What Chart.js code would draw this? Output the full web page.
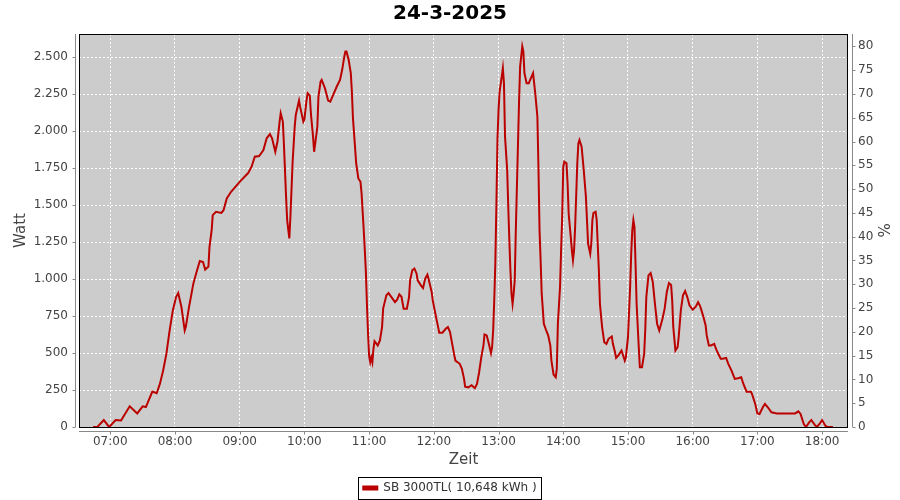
<!DOCTYPE html>
<html>
<head>
<meta charset="utf-8">
<title>24-3-2025</title>
<script src="https://cdn.jsdelivr.net/npm/chart.js@4.4.1/dist/chart.umd.min.js"></script>
<style>
  html, body { margin: 0; padding: 0; background: #fff; }
</style>
</head>
<body>
<canvas id="chart" width="900" height="500"></canvas>
<script>
// values (Watt over the day)
const times = [
  '06:44','06:48','06:54','06:59','07:05','07:10','07:18','07:25','07:30','07:33',
  '07:39','07:43','07:46','07:49','07:52','07:55','07:58','08:01','08:03','08:06',
  '08:09','08:10','08:13','08:17','08:20','08:23','08:26','08:28','08:31','08:32',
  '08:34','08:35','08:38','08:43','08:45','08:48','08:52','09:00','09:08','09:11',
  '09:14','09:18','09:22','09:25','09:28','09:30','09:33','09:35','09:37','09:38',
  '09:40','09:41','09:43','09:44','09:46','09:47','09:48','09:49','09:51','09:52',
  '09:55','09:56','09:59','10:00','10:02','10:03','10:05','10:06','10:08','10:09',
  '10:12','10:13','10:15','10:16','10:19','10:22','10:24','10:26','10:30','10:33',
  '10:35','10:37','10:38','10:39','10:41','10:43','10:44','10:45','10:47','10:48',
  '10:50','10:52','10:53','10:54','10:55','10:56','10:57','10:58','10:59','11:00',
  '11:01','11:02','11:03','11:04','11:05','11:08','11:10','11:12','11:13','11:16',
  '11:18','11:21','11:24','11:26','11:28','11:30','11:32','11:35','11:37','11:38',
  '11:40','11:42','11:44','11:45','11:48','11:50','11:52','11:54','11:55','11:58',
  '11:59','12:02','12:04','12:05','12:08','12:11','12:13','12:15','12:17','12:19',
  '12:20','12:24','12:26','12:28','12:29','12:32','12:35','12:38','12:40','12:42',
  '12:44','12:46','12:47','12:49','12:51','12:53','12:54','12:55','12:56','12:57',
  '12:58','12:59','13:00','13:01','13:03','13:04','13:05','13:06','13:08','13:09',
  '13:10','13:11','13:12','13:13','13:14','13:15','13:16','13:18','13:19','13:20',
  '13:22','13:23','13:24','13:26','13:28','13:30','13:32','13:34','13:36','13:37',
  '13:38','13:39','13:40','13:42','13:44','13:46','13:48','13:49','13:51','13:53',
  '13:54','13:55','13:57','13:58','13:59','14:00','14:01','14:03','14:04','14:05',
  '14:07','14:08','14:09','14:10','14:11','14:13','14:14','14:15','14:17','14:19',
  '14:21','14:23','14:25','14:26','14:27','14:28','14:30','14:31','14:33','14:34',
  '14:36','14:38','14:40','14:42','14:45','14:46','14:48','14:49','14:51','14:54',
  '14:55','14:57','14:58','15:00','15:02','15:03','15:04','15:05','15:06','15:07',
  '15:08','15:10','15:11','15:13','15:15','15:16','15:17','15:19','15:21','15:23',
  '15:25','15:27','15:29','15:32','15:34','15:36','15:38','15:40','15:41','15:42',
  '15:44','15:46','15:47','15:49','15:51','15:53','15:55','15:57','16:00','16:03',
  '16:05','16:07','16:10','16:12','16:13','16:15','16:17','16:20','16:21','16:23',
  '16:26','16:28','16:31','16:33','16:36','16:39','16:42','16:45','16:47','16:50',
  '16:54','16:55','16:58','17:00','17:02','17:05','17:07','17:10','17:13','17:18',
  '17:35','17:38','17:40','17:43','17:45','17:48','17:50','17:53','17:55','17:58',
  '18:00','18:03','18:05','18:10'
];
const watts = [
  0, 0, 47, 0, 47, 44, 140, 92, 140, 135,
  239, 228, 291, 381, 494, 652, 788, 878, 905, 810,
  652, 675, 810, 969, 1047, 1122, 1115, 1064, 1085, 1217,
  1330, 1432, 1454, 1447, 1465, 1545, 1590, 1657, 1718, 1759,
  1827, 1831, 1872, 1951, 1980, 1951, 1860, 1928, 2064, 2120,
  2064, 1910, 1555, 1398, 1274, 1420, 1600, 1782, 2030, 2109,
  2206, 2165, 2064, 2080, 2211, 2256, 2240, 2120, 1962, 1860,
  2030, 2233, 2335, 2346, 2290, 2206, 2199, 2233, 2301, 2346,
  2414, 2504, 2538, 2538, 2482, 2392, 2267, 2087, 1884, 1782,
  1680, 1657, 1579, 1454, 1330, 1194, 1047, 822, 630, 480,
  438, 470, 438, 528, 580, 551, 585, 675, 800, 890,
  905, 874, 844, 860, 896, 880, 800, 800, 878, 991,
  1059, 1070, 1036, 991, 957, 939, 1003, 1030, 1003, 912,
  856, 743, 675, 637, 637, 664, 675, 641, 562, 483,
  449, 427, 393, 325, 273, 268, 282, 262, 291, 370,
  472, 551, 625, 619, 562, 499, 539, 652, 856, 1104,
  1500, 1950, 2143, 2267, 2369, 2425, 2324, 1962, 1736, 1488,
  1262, 1059, 901, 833, 901, 991, 1330, 1906, 2199, 2436,
  2572, 2538, 2392, 2324, 2324, 2358, 2392, 2256, 2098, 1750,
  1330, 1127, 901, 698, 657, 619, 551, 449, 354, 336,
  393, 698, 946, 1194, 1420, 1759, 1793, 1782, 1646, 1443,
  1280, 1194, 1127, 1194, 1350, 1782, 1917, 1940, 1894, 1736,
  1555, 1240, 1172, 1240, 1398, 1447, 1454, 1398, 1059, 833,
  675, 573, 562, 596, 612, 562, 505, 467, 483, 517,
  495, 449, 470, 607, 946, 1172, 1330, 1398, 1352, 1104,
  833, 539, 404, 404, 494, 652, 878, 1025, 1041, 980,
  833, 698, 652, 732, 800, 912, 973, 960, 856, 675,
  517, 539, 607, 788, 890, 919, 878, 822, 793, 815,
  844, 815, 743, 686, 619, 551, 551, 562, 539, 505,
  461, 461, 467, 427, 381, 325, 330, 336, 291, 239,
  239, 223, 156, 92, 88, 133, 156, 130, 99, 92,
  92, 106, 88, 20, 0, 31, 47, 16, 0, 25,
  47, 9, 0, 0
];
const hourLabels = ['07:00','08:00','09:00','10:00','11:00','12:00','13:00','14:00','15:00','16:00','17:00','18:00'];
const seriesName = 'SB 3000TL( 10,648 kWh )';
const chartTitle = '24-3-2025';

const FONT = "'DejaVu Sans', sans-serif";

function toMinutes(t) {
  const [h, m] = t.split(':').map(Number);
  return h * 60 + m;
}

function fmtThousands(v) {
  return String(v).replace(/\B(?=(\d{3})+(?!\d))/g, '.');
}

// gray plot background, black frame, offset axis lines like the original
const plotFrame = {
  id: 'plotFrame',
  beforeDraw(chart) {
    const { ctx, chartArea: a } = chart;
    ctx.save();
    ctx.fillStyle = '#cccccc';
    ctx.fillRect(a.left, a.top, a.right - a.left, a.bottom - a.top);
    ctx.restore();
  },
  afterDraw(chart) {
    const { ctx, chartArea: a } = chart;
    ctx.save();
    ctx.strokeStyle = '#000';
    ctx.lineWidth = 1;
    ctx.strokeRect(a.left + 0.5, a.top + 0.5, a.right - a.left - 1, a.bottom - a.top);

    ctx.strokeStyle = '#888';
    ctx.beginPath();
    const lx = Math.round(a.left - 4) + 0.5;
    ctx.moveTo(lx, a.top); ctx.lineTo(lx, a.bottom);
    chart.scales.y.ticks.forEach(t => {
      const py = Math.round(chart.scales.y.getPixelForValue(t.value)) + 0.5;
      ctx.moveTo(lx - 3, py); ctx.lineTo(lx, py);
    });
    const rx = Math.round(a.right + 4) + 0.5;
    ctx.moveTo(rx, a.top); ctx.lineTo(rx, a.bottom);
    chart.scales.y1.ticks.forEach(t => {
      const py = Math.round(chart.scales.y1.getPixelForValue(t.value)) + 0.5;
      ctx.moveTo(rx, py); ctx.lineTo(rx + 3, py);
    });
    const by = Math.round(a.bottom + 4) + 0.5;
    ctx.moveTo(a.left, by); ctx.lineTo(a.right, by);
    chart.scales.x.ticks.forEach(t => {
      const px = Math.round(chart.scales.x.getPixelForValue(t.value)) + 0.5;
      ctx.moveTo(px, by); ctx.lineTo(px, by + 3);
    });
    ctx.stroke();

    // frame around the legend
    const box = chart.legend && chart.legend.legendHitBoxes[0];
    if (box) {
      ctx.strokeStyle = '#000';
      ctx.strokeRect(Math.round(box.left - 5) + 0.5, Math.round(box.top - 5) + 0.5,
        Math.round(box.width + 10), Math.round(box.height + 10));
    }
    ctx.restore();
  }
};

new Chart(document.getElementById('chart'), {
  type: 'line',
  data: {
    datasets: [{
      label: seriesName,
      data: times.map((t, i) => ({ x: toMinutes(t), y: watts[i] })),
      borderColor: '#bb0000',
      backgroundColor: '#bb0000',
      borderWidth: 2,
      pointRadius: 0,
      tension: 0,
      yAxisID: 'y'
    }]
  },
  options: {
    responsive: false,
    animation: false,
    devicePixelRatio: 1,
    // legend keeps a fixed gap below itself, pull it down a bit
    layout: { padding: { top: 0, left: 0, right: 0, bottom: -4 } },
    plugins: {
      title: {
        display: true,
        text: chartTitle,
        color: '#000',
        font: { family: FONT, size: 20, weight: 'bold' },
        padding: { top: 2, bottom: 8 }
      },
      legend: {
        position: 'bottom',
        labels: {
          font: { family: FONT, size: 12 },
          color: '#333',
          boxWidth: 14,
          boxHeight: 3,
          padding: 0
        }
      },
      tooltip: { enabled: false }
    },
    scales: {
      x: {
        type: 'linear',
        min: 391,
        max: 1104,
        afterFit: s => { s.height = 55; },
        afterBuildTicks: s => { s.ticks = hourLabels.map(h => ({ value: toMinutes(h) })); },
        ticks: {
          font: { family: FONT, size: 12 },
          color: '#444',
          padding: 8,
          maxRotation: 0,
          callback: v => hourLabels.find(h => toMinutes(h) === v) || ''
        },
        grid: { color: '#ffffff', lineWidth: 1, drawTicks: false },
        border: { display: false, dash: [2, 2] },
        title: {
          display: true, text: 'Zeit', color: '#444',
          font: { family: FONT, size: 15 },
          padding: { top: 0, bottom: 13 }
        }
      },
      y: {
        position: 'left',
        min: 0,
        max: 2656,
        afterFit: s => { s.width = 79; },
        ticks: {
          stepSize: 250,
          includeBounds: false,
          font: { family: FONT, size: 12 },
          color: '#444',
          padding: 11,
          callback: v => fmtThousands(v)
        },
        grid: { color: '#ffffff', lineWidth: 1, drawTicks: false },
        border: { display: false, dash: [2, 2] },
        title: {
          display: true, text: 'Watt', color: '#444',
          font: { family: FONT, size: 15 },
          padding: { top: 12, bottom: 0 }
        }
      },
      y1: {
        position: 'right',
        min: 0,
        max: 82.6,
        afterFit: s => { s.width = 52; },
        ticks: {
          stepSize: 5,
          includeBounds: false,
          font: { family: FONT, size: 12 },
          color: '#444',
          padding: 10
        },
        grid: { drawOnChartArea: false, drawTicks: false },
        border: { display: false },
        title: {
          display: true, text: '%', color: '#444',
          font: { family: FONT, size: 15 },
          padding: { top: 9, bottom: 0 }
        }
      }
    }
  },
  plugins: [plotFrame]
});
</script>
</body>
</html>
